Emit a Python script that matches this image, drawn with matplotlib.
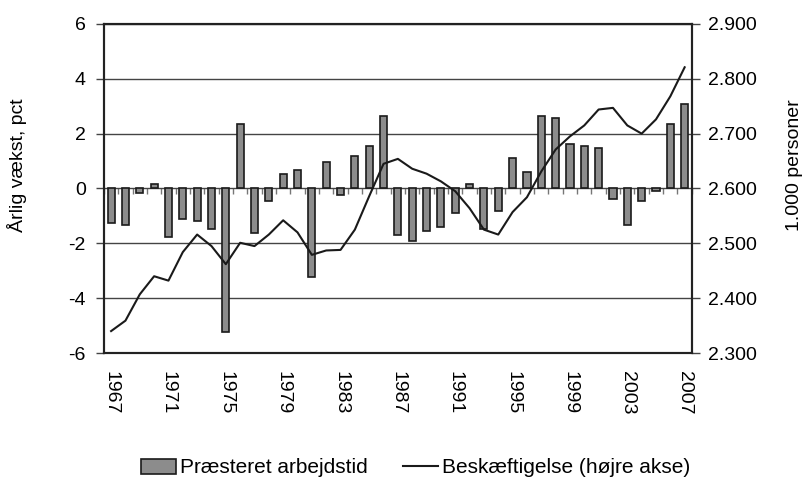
import matplotlib.pyplot as plt
import numpy as np
from matplotlib.ticker import FuncFormatter
from matplotlib.patches import Patch
from matplotlib.lines import Line2D

plt.rcParams['font.family'] = ['Liberation Sans', 'DejaVu Sans']
plt.rcParams['axes.unicode_minus'] = False

years = list(range(1967, 2008))
arbejdstid = [-1.27, -1.34, -0.17, 0.16, -1.78, -1.12, -1.19, -1.48, -5.23, 2.35,
              -1.63, -0.46, 0.54, 0.67, -3.22, 0.96, -0.23, 1.19, 1.56, 2.64,
              -1.70, -1.91, -1.55, -1.42, -0.90, 0.16, -1.48, -0.82, 1.12, 0.61,
              2.64, 2.58, 1.63, 1.56, 1.48, -0.38, -1.34, -0.45, -0.09, 2.36,
              3.09]
beskaeftigelse = [2340, 2359, 2407, 2440, 2432, 2484, 2516, 2495, 2462, 2501,
                  2495, 2516, 2542, 2520, 2479, 2487, 2488, 2525, 2586, 2645,
                  2654, 2636, 2627, 2613, 2595, 2564, 2525, 2516, 2557, 2584,
                  2631, 2671, 2695, 2715, 2744, 2747, 2715, 2700, 2726, 2768,
                  2821]

x = np.arange(len(years))
fs = 14

fig = plt.figure(figsize=(8.12, 4.79), dpi=100)
ax = fig.add_axes([0.128, 0.263, 0.724, 0.687])

ax.bar(x, arbejdstid, width=0.5, color='#8c8c8c', edgecolor='#1a1a1a', linewidth=1.2, zorder=2)
ax.set_xlim(-0.5, len(years) - 0.5)
ax.set_ylim(-6, 6)
ax.set_yticks(np.arange(-6, 7, 2))
ax.yaxis.grid(True, color='#444444', linewidth=1.0)
ax.set_axisbelow(True)

ax.set_xticks(x[::4])
ax.set_xticklabels([str(y) for y in years[::4]], rotation=270, fontsize=fs)
ax.tick_params(axis='x', length=0, pad=13)
ax.tick_params(axis='y', direction='out', length=6, width=1, color='#444444', labelsize=fs, pad=7)
for s in ax.spines.values():
    s.set_linewidth(1.5)
    s.set_color('#222222')

# small category ticks along the zero line
sec = ax.secondary_xaxis(0.5)
sec.xaxis.set_ticks_position('bottom')
sec.set_xticks(np.arange(-0.5, len(years), 1))
sec.tick_params(axis='x', direction='out', length=4, width=1, color='#777777', labelbottom=False, labeltop=False)
for s in sec.spines.values():
    s.set_visible(False)

ax.set_ylabel('Årlig vækst, pct', fontsize=fs)
ax.yaxis.set_label_coords(-0.131, 0.571)

ax2 = ax.twinx()
ax2.plot(x, beskaeftigelse, color='#1a1a1a', linewidth=1.5)
ax2.set_ylim(2300, 2900)
ax2.set_yticks(np.arange(2300, 2901, 100))
ax2.yaxis.set_major_formatter(FuncFormatter(lambda v, p: f'{int(v):,}'.replace(',', '.')))
ax2.tick_params(axis='y', direction='out', length=6, width=1, color='#444444', labelsize=fs, pad=6)
for s in ax2.spines.values():
    s.set_linewidth(1.5)
    s.set_color('#222222')
ax2.set_ylabel('1.000 personer', fontsize=fs)
ax2.yaxis.set_label_coords(1.16, 0.571)

handles = [Patch(facecolor='#8c8c8c', edgecolor='#1a1a1a', linewidth=1.2),
           Line2D([], [], color='#1a1a1a', linewidth=1.5)]
fig.legend(handles, ['Præsteret arbejdstid', 'Beskæftigelse (højre akse)'],
           loc='center', bbox_to_anchor=(0.512, 0.023), ncol=2, frameon=False,
           fontsize=15, handlelength=1.65, handleheight=0.75, handletextpad=0.2,
           columnspacing=1.7)

fig.savefig('out.png', dpi=100)
